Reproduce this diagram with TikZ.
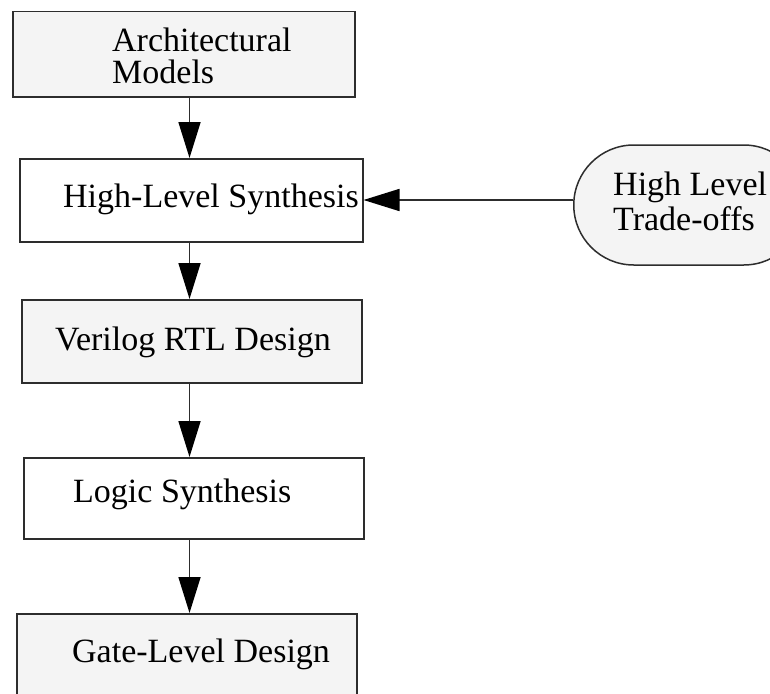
\documentclass[tikz,border=0pt]{standalone}
\usepackage{fontspec}
\setmainfont{Liberation Serif}
\usetikzlibrary{arrows.meta,shapes.misc}
\definecolor{boxgray}{RGB}{244,244,244}
\definecolor{linecol}{RGB}{45,45,45}
\tikzset{
  box/.style={draw=linecol, line width=1.5pt, rectangle, inner sep=0pt, anchor=north west},
  graybox/.style={box, fill=boxgray},
  whitebox/.style={box, fill=white},
  lbl/.style={anchor=base west, inner sep=0pt, font=\fontsize{34}{31}\selectfont, text=black},
  flow/.style={draw=linecol, line width=1.7pt, -{Triangle[length=36pt,width=22pt,color=black]}}
}
\begin{document}
\begin{tikzpicture}[x=1pt,y=-1pt]
\useasboundingbox (0,0) rectangle (770,693);
\clip (0,0) rectangle (770,693);
\node[graybox, minimum width=342pt, minimum height=85pt] (b1) at (12,11) {};
\node[whitebox, minimum width=343pt, minimum height=83pt] (b2) at (19,158) {};
\node[graybox, minimum width=340pt, minimum height=83pt] (b3) at (21,299) {};
\node[whitebox, minimum width=340pt, minimum height=81pt] (b4) at (23,457) {};
\node[graybox, minimum width=340pt, minimum height=90pt] (b5) at (16,613) {};
\node[draw=linecol, line width=1.5pt, fill=boxgray, rounded rectangle, inner sep=0pt,
      minimum width=230pt, minimum height=120pt, anchor=west] (hl) at (573,205) {};

\node[lbl] (t1a) at (112,52) {Architectural};
\node[lbl] (t1b) at (112,83) {Models};
\node[lbl] (t2) at (63,207) {High-Level Synthesis};
\node[lbl] (t3) at (55,350) {Verilog RTL Design};
\node[lbl] (t4) at (73,502) {Logic Synthesis};
\node[lbl] (t5) at (72,662) {Gate-Level Design};
\node[lbl] (t6a) at (613,195) {High Level};
\node[lbl] (t6b) at (613,230) {Trade-offs};

\coordinate (ax) at (189.5,0);
\coordinate (ay) at (0,200);
\draw[flow] (b1.south -| ax) -- (b2.north -| ax);
\draw[flow] (b2.south -| ax) -- (b3.north -| ax);
\draw[flow] (b3.south -| ax) -- (b4.north -| ax);
\draw[flow] (b4.south -| ax) -- (b5.north -| ax);
\draw[flow] (hl.west |- ay) -- (b2.east |- ay);
\end{tikzpicture}
\end{document}
